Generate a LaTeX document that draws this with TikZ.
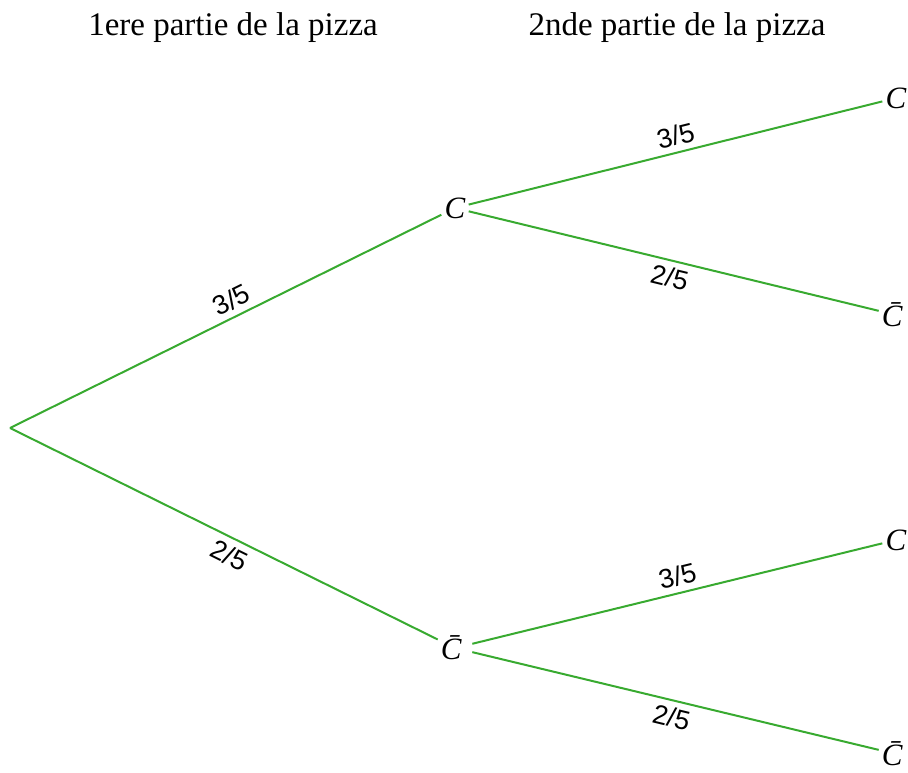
\documentclass[tikz,border=0pt]{standalone}
\usepackage{fontspec}
\setmainfont{Liberation Serif}
\newfontfamily\fracfont{Liberation Sans}
\definecolor{branchgreen}{RGB}{56,170,48}
\newcommand\evC{\textit{C}}
\newcommand\evNC{\textit{\=C}}
\begin{document}
\begin{tikzpicture}[x=1pt,y=-1pt,
  edge/.style={draw=branchgreen,line width=2pt},
  ev/.style={inner sep=3pt,font=\fontsize{31}{33}\selectfont},
  prob/.style={sloped,pos=0.53,font=\fracfont\fontsize{27}{29}\selectfont,inner sep=6pt},
  title/.style={font=\fontsize{33}{36}\selectfont}]
\useasboundingbox (0,0) rectangle (908,772);
\node[title] (t1) at (233,28) {1ere partie de la pizza};
\node[title] (t2) at (677,28) {2nde partie de la pizza};
\coordinate (r) at (10,428);
\node[ev] (c1) at (455,208) {\evC};
\node[ev] (n1) at (455,648) {\evNC};
\node[ev] (c11) at (896,98) {\evC};
\node[ev] (n12) at (896,315) {\evNC};
\node[ev] (c21) at (896,540) {\evC};
\node[ev] (n22) at (896,754) {\evNC};
\draw[edge] (r) -- node[prob,above] {3/5} (c1);
\draw[edge] (r) -- node[prob,below] {2/5} (n1);
\draw[edge] (c1) -- node[prob,above,pos=0.51] {3/5} (c11);
\draw[edge] (c1) -- node[prob,below,pos=0.5] {2/5} (n12);
\draw[edge] (n1) -- node[prob,above,pos=0.51] {3/5} (c21);
\draw[edge] (n1) -- node[prob,below,pos=0.5] {2/5} (n22);
\end{tikzpicture}
\end{document}
